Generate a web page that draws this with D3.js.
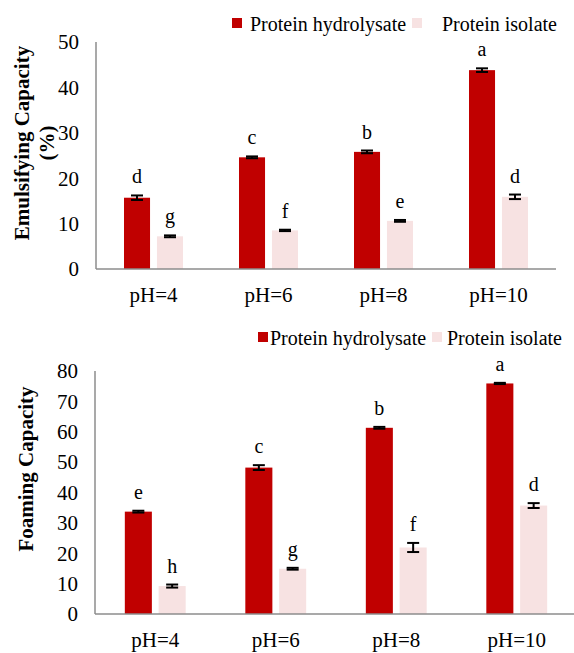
<!DOCTYPE html>
<html>
<head>
<meta charset="utf-8">
<script src="https://cdn.jsdelivr.net/npm/d3@7"></script>
<style>
  body { margin: 0; background: #fff; }
  text { font-family: "Liberation Serif", "Times New Roman", serif; fill: #000; }
</style>
</head>
<body>
<script>
var categories = ["pH=4", "pH=6", "pH=8", "pH=10"];
var seriesNames = ["Protein hydrolysate", "Protein isolate"];
var colors = ["#c00000", "#f7e2e2"];

// emulsifying capacity (%)
var emulHydro = [15.7, 24.6, 25.8, 43.8];
var emulHydroErr = [0.5, 0.2, 0.3, 0.4];
var emulIso = [7.2, 8.5, 10.6, 15.9];
var emulIsoErr = [0.2, 0.15, 0.2, 0.5];
var emulHydroLetters = ["d", "c", "b", "a"];
var emulIsoLetters = ["g", "f", "e", "d"];
var emulTicks = [0, 10, 20, 30, 40, 50];

// foaming capacity
var foamHydro = [33.7, 48.2, 61.3, 75.9];
var foamHydroErr = [0.3, 0.8, 0.3, 0.2];
var foamIso = [9.2, 14.9, 21.9, 35.7];
var foamIsoErr = [0.5, 0.3, 1.5, 0.8];
var foamHydroLetters = ["e", "c", "b", "a"];
var foamIsoLetters = ["h", "g", "f", "d"];
var foamTicks = [0, 10, 20, 30, 40, 50, 60, 70, 80];

var svg = d3.select("body").append("svg")
	.attr("width", 574)
	.attr("height", 653);

function drawChart(opt) {
	var g = svg.append("g");
	var y = d3.scaleLinear().domain([0, opt.max]).range([opt.bottom, opt.top]);
	var x = d3.scaleBand().domain(categories).range([opt.left, opt.right])
		.paddingInner(opt.pad).paddingOuter(opt.pad / 2);
	var xs = d3.scaleBand().domain([0, 1]).range([0, x.bandwidth()]).paddingInner(opt.gap);

	var rows = [];
	categories.forEach(function(c, i) {
		rows.push({cat: c, s: 0, v: opt.vals[0][i], e: opt.errs[0][i], l: opt.letters[0][i]});
		rows.push({cat: c, s: 1, v: opt.vals[1][i], e: opt.errs[1][i], l: opt.letters[1][i]});
	});

	// y tick labels
	g.selectAll("text.tick")
		.data(opt.ticks)
		.enter().append("text")
		.attr("class", "tick")
		.attr("x", opt.left - 17)
		.attr("y", function(d) { return y(d); })
		.attr("dy", "0.35em")
		.attr("text-anchor", "end")
		.style("font-size", "21px")
		.text(function(d) { return d; });

	g.selectAll("rect.bar")
		.data(rows)
		.enter().append("rect")
		.attr("class", "bar")
		.attr("x", function(d) { return x(d.cat) + xs(d.s); })
		.attr("width", xs.bandwidth())
		.attr("y", function(d) { return y(d.v); })
		.attr("height", function(d) { return y(0) - y(d.v); })
		.attr("fill", function(d) { return colors[d.s]; });

	// error bars
	var eb = g.selectAll("g.err").data(rows).enter().append("g").attr("class", "err")
		.attr("stroke", "#000").attr("stroke-width", 2);
	function cx(d) { return x(d.cat) + xs(d.s) + xs.bandwidth() / 2; }
	eb.append("line")
		.attr("x1", cx).attr("x2", cx)
		.attr("y1", function(d) { return y(d.v + d.e); })
		.attr("y2", function(d) { return y(d.v - d.e); });
	eb.append("line")
		.attr("x1", function(d) { return cx(d) - 6; }).attr("x2", function(d) { return cx(d) + 6; })
		.attr("y1", function(d) { return y(d.v + d.e); })
		.attr("y2", function(d) { return y(d.v + d.e); });
	eb.append("line")
		.attr("x1", function(d) { return cx(d) - 6; }).attr("x2", function(d) { return cx(d) + 6; })
		.attr("y1", function(d) { return y(d.v - d.e); })
		.attr("y2", function(d) { return y(d.v - d.e); });

	g.selectAll("text.letter")
		.data(rows)
		.enter().append("text")
		.attr("class", "letter")
		.attr("x", cx)
		.attr("y", function(d) { return y(d.v + d.e) - 12; })
		.attr("text-anchor", "middle")
		.style("font-size", "20px")
		.text(function(d) { return d.l; });

	// axes lines
	g.append("line")
		.attr("x1", opt.left).attr("x2", opt.left)
		.attr("y1", y(opt.max)).attr("y2", y(0))
		.attr("stroke", "#8c8c8c").attr("stroke-width", 1.5);
	g.append("line")
		.attr("x1", opt.left).attr("x2", opt.right)
		.attr("y1", y(0)).attr("y2", y(0))
		.attr("stroke", "#8c8c8c").attr("stroke-width", 1.5);

	g.selectAll("text.cat")
		.data(categories)
		.enter().append("text")
		.attr("class", "cat")
		.attr("x", function(d) { return x(d) + x.bandwidth() / 2; })
		.attr("y", opt.bottom + 33)
		.attr("text-anchor", "middle")
		.style("font-size", "21px")
		.text(function(d) { return d; });

	// y title
	opt.title.forEach(function(t, i) {
		g.append("text")
			.attr("transform", "translate(" + (opt.titleX + i * 25) + "," + opt.titleY + ") rotate(-90)")
			.attr("text-anchor", "middle")
			.attr("dy", "0.35em")
			.style("font-size", "21px")
			.style("font-weight", "bold")
			.text(t);
	});

	// legend
	seriesNames.forEach(function(n, i) {
		g.append("rect")
			.attr("x", opt.legX[i]).attr("y", opt.legY - 13)
			.attr("width", 10).attr("height", 10)
			.attr("fill", colors[i]);
		g.append("text")
			.attr("x", opt.legTX[i]).attr("y", opt.legY)
			.style("font-size", "20px")
			.text(n);
	});
}

drawChart({
	top: 42, bottom: 269, left: 96, right: 556, max: 50,
	pad: 0.487, gap: 0.21,
	vals: [emulHydro, emulIso], errs: [emulHydroErr, emulIsoErr],
	letters: [emulHydroLetters, emulIsoLetters], ticks: emulTicks,
	title: ["Emulsifying Capacity", "(%)"], titleX: 22, titleY: 143,
	legX: [232, 412], legTX: [250, 442], legY: 31
});

drawChart({
	top: 371, bottom: 614, left: 95, right: 577, max: 80,
	pad: 0.495, gap: 0.2,
	vals: [foamHydro, foamIso], errs: [foamHydroErr, foamIsoErr],
	letters: [foamHydroLetters, foamIsoLetters], ticks: foamTicks,
	title: ["Foaming Capacity"], titleX: 26, titleY: 469,
	legX: [258, 432], legTX: [270, 447], legY: 345
});
</script>
</body>
</html>
